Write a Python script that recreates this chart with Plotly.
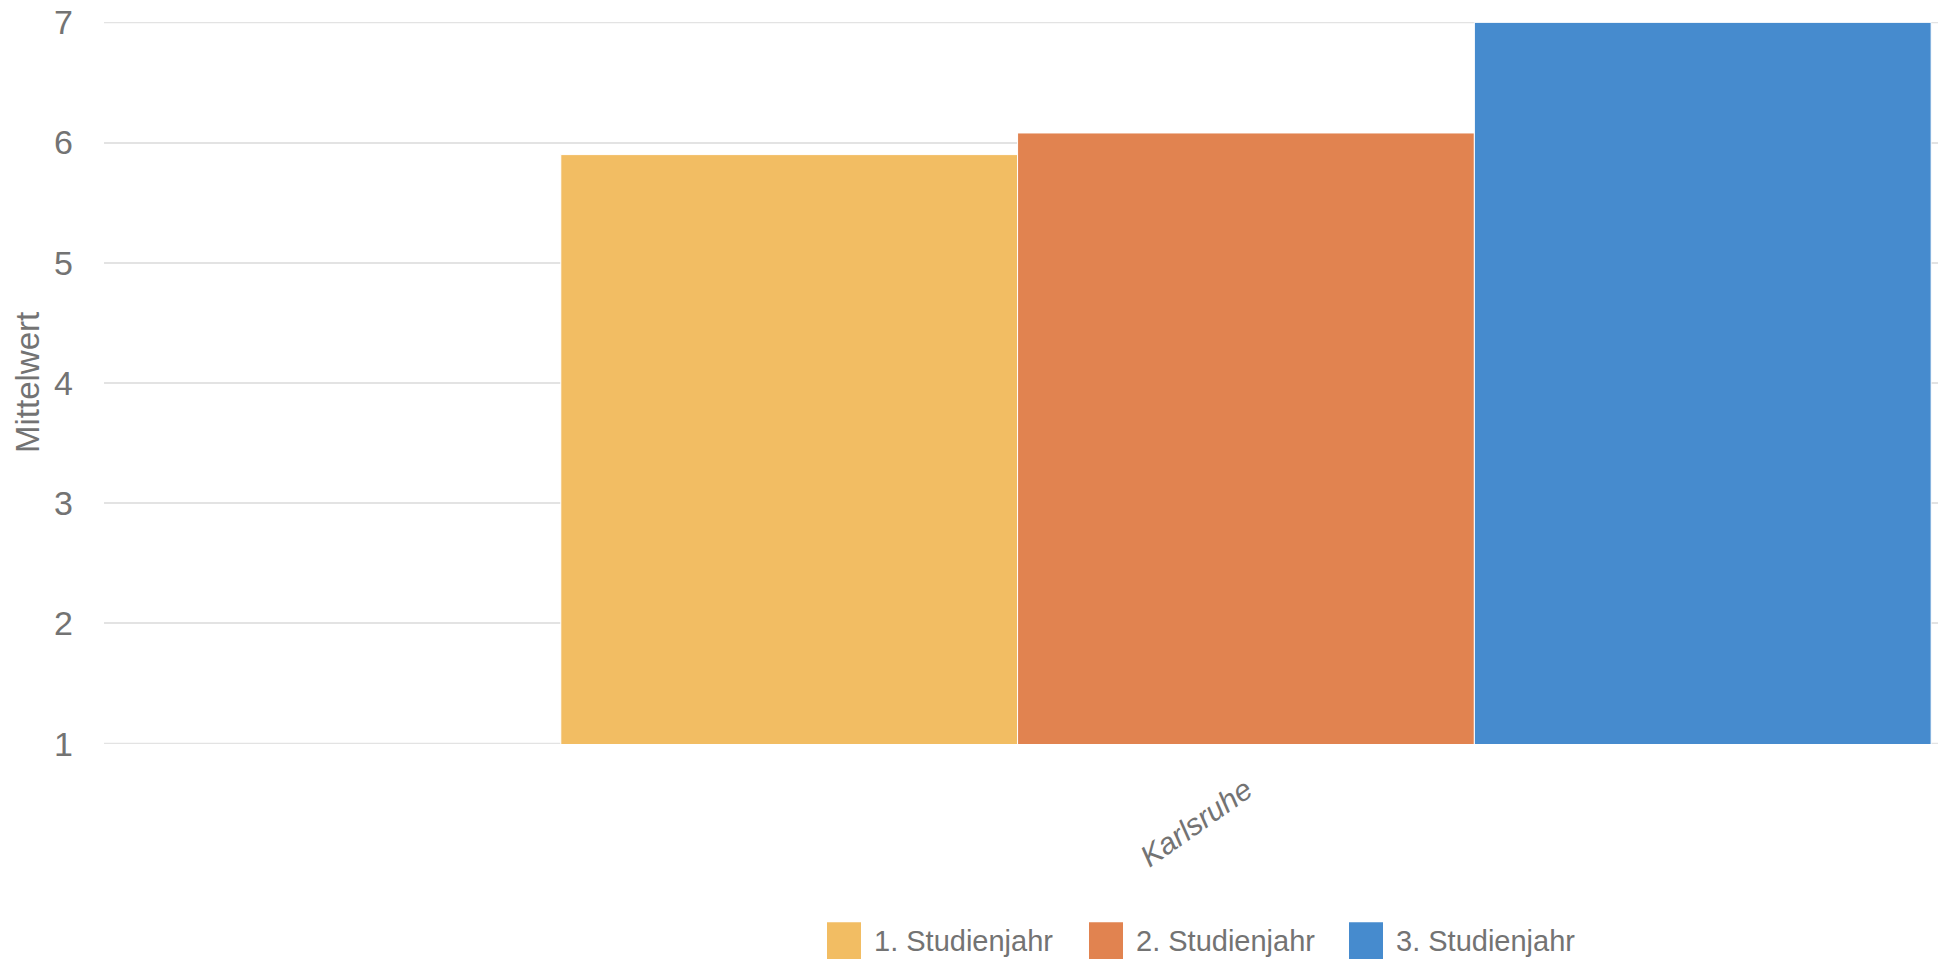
import plotly.graph_objects as go

# Data
standorte = ["Karlsruhe"]
jahrgaenge = ["1. Studienjahr", "2. Studienjahr", "3. Studienjahr"]
mittelwerte = [
    [5.9],   # 1. Studienjahr
    [6.08],  # 2. Studienjahr
    [7.0],   # 3. Studienjahr
]
farben = ["#F2BD63", "#E18350", "#468BCE"]
y_ticks = [1, 2, 3, 4, 5, 6, 7]

W, H = 1941, 965
M_L, M_R, M_T, M_B = 104, 3, 19, 221
PLOT_W = W - M_L - M_R
PLOT_H = H - M_T - M_B
Y_MIN, Y_MAX = 1, 7


def px_x(x):
    return (x - M_L) / PLOT_W


def px_y(y):
    return (H - M_B - y) / PLOT_H


fig = go.Figure()
for name, vals, col in zip(jahrgaenge, mittelwerte, farben):
    fig.add_trace(go.Bar(
        x=standorte,
        y=vals,
        base=0,
        name=name,
        marker=dict(color=col, line=dict(color="white", width=1)),
        showlegend=False,
    ))

grey = "#737373"
grid = "#E3E3E3"
font_fam = "Liberation Sans, Arial, sans-serif"

fig.update_layout(
    width=W, height=H,
    margin=dict(l=M_L, r=M_R, t=M_T, b=M_B, pad=0),
    paper_bgcolor="white", plot_bgcolor="white",
    barmode="group", bargap=0.4, bargroupgap=0,
    font=dict(family=font_fam, color=grey),
    xaxis=dict(
        type="category",
        range=[-0.5, 0.303],
        showgrid=False, zeroline=False, showline=False,
        tickangle=-35,
        tickfont=dict(size=30, color=grey, family=font_fam, style="italic"),
        ticklabelstandoff=22,
    ),
    yaxis=dict(
        range=[Y_MIN - 0.003, Y_MAX + 0.003],
        tickvals=y_ticks,
        showgrid=True, gridcolor=grid, gridwidth=2,
        zeroline=False, showline=False,
        tickfont=dict(size=34, color=grey, family=font_fam),
        ticklabelstandoff=30,
    ),
)

# Grid lines at both ends of the value axis
for yv in (Y_MIN, Y_MAX):
    fig.add_shape(
        type="line", xref="paper", yref="y", x0=0, x1=1, y0=yv, y1=yv,
        line=dict(color=grid, width=2), layer="below",
    )

# Axis title
fig.add_annotation(
    text="Mittelwert", textangle=-90,
    xref="paper", yref="paper", x=px_x(27), y=0.5,
    xanchor="center", yanchor="middle", showarrow=False,
    font=dict(size=33, color=grey, family=font_fam),
)

# Legend drawn below the plot
sw_x0 = [827, 1089, 1349]
sw_w, sw_top, sw_bot = 34, 923, 960
for name, col, x0 in zip(jahrgaenge, farben, sw_x0):
    fig.add_shape(
        type="rect", xref="paper", yref="paper",
        x0=px_x(x0), x1=px_x(x0 + sw_w), y0=px_y(sw_bot), y1=px_y(sw_top),
        fillcolor=col, line=dict(width=0),
    )
    fig.add_annotation(
        text=name, xref="paper", yref="paper",
        x=px_x(x0 + 45), y=px_y((sw_top + sw_bot) / 2),
        xanchor="left", yanchor="middle", showarrow=False,
        font=dict(size=29, color=grey, family=font_fam),
    )

fig.write_html("out.html")
